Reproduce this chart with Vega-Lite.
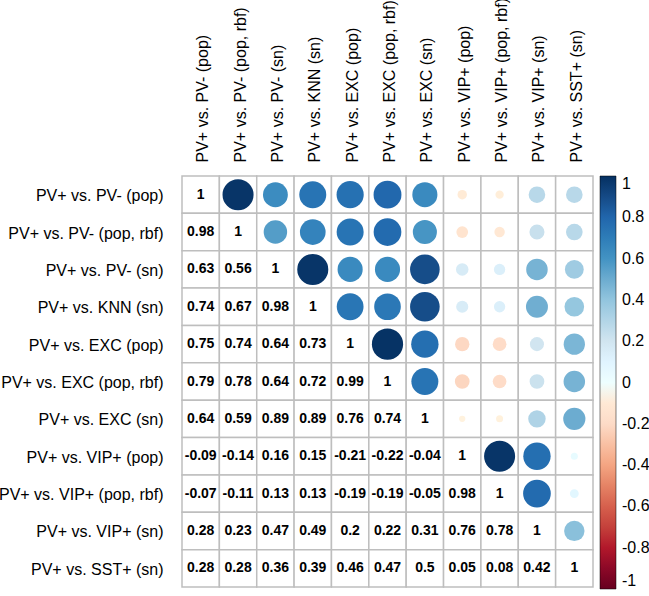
{
  "$schema": "https://vega.github.io/schema/vega-lite/v6.json",
  "autosize": {"type": "none"},
  "padding": {"left": 182, "top": 176, "right": 56, "bottom": 9},
  "width": 411,
  "height": 411,
  "config": {
    "view": {"stroke": null},
    "font": "Liberation Sans",
    "axis": {"domain": false, "ticks": false, "grid": false, "labelFont": "Liberation Sans", "labelFontSize": 16, "labelColor": "#000", "title": null, "labelLimit": 300}
  },
  "datasets": {
    "m": [
      {"row":"PV+ vs. PV- (pop)","col":"PV+ vs. PV- (pop)","r":1,"part":"l"},
      {"row":"PV+ vs. PV- (pop)","col":"PV+ vs. PV- (pop, rbf)","r":0.98,"part":"u"},
      {"row":"PV+ vs. PV- (pop)","col":"PV+ vs. PV- (sn)","r":0.63,"part":"u"},
      {"row":"PV+ vs. PV- (pop)","col":"PV+ vs. KNN (sn)","r":0.74,"part":"u"},
      {"row":"PV+ vs. PV- (pop)","col":"PV+ vs. EXC (pop)","r":0.75,"part":"u"},
      {"row":"PV+ vs. PV- (pop)","col":"PV+ vs. EXC (pop, rbf)","r":0.79,"part":"u"},
      {"row":"PV+ vs. PV- (pop)","col":"PV+ vs. EXC (sn)","r":0.64,"part":"u"},
      {"row":"PV+ vs. PV- (pop)","col":"PV+ vs. VIP+ (pop)","r":-0.09,"part":"u"},
      {"row":"PV+ vs. PV- (pop)","col":"PV+ vs. VIP+ (pop, rbf)","r":-0.07,"part":"u"},
      {"row":"PV+ vs. PV- (pop)","col":"PV+ vs. VIP+ (sn)","r":0.28,"part":"u"},
      {"row":"PV+ vs. PV- (pop)","col":"PV+ vs. SST+ (sn)","r":0.28,"part":"u"},

      {"row":"PV+ vs. PV- (pop, rbf)","col":"PV+ vs. PV- (pop)","r":0.98,"part":"l"},
      {"row":"PV+ vs. PV- (pop, rbf)","col":"PV+ vs. PV- (pop, rbf)","r":1,"part":"l"},
      {"row":"PV+ vs. PV- (pop, rbf)","col":"PV+ vs. PV- (sn)","r":0.56,"part":"u"},
      {"row":"PV+ vs. PV- (pop, rbf)","col":"PV+ vs. KNN (sn)","r":0.67,"part":"u"},
      {"row":"PV+ vs. PV- (pop, rbf)","col":"PV+ vs. EXC (pop)","r":0.74,"part":"u"},
      {"row":"PV+ vs. PV- (pop, rbf)","col":"PV+ vs. EXC (pop, rbf)","r":0.78,"part":"u"},
      {"row":"PV+ vs. PV- (pop, rbf)","col":"PV+ vs. EXC (sn)","r":0.59,"part":"u"},
      {"row":"PV+ vs. PV- (pop, rbf)","col":"PV+ vs. VIP+ (pop)","r":-0.14,"part":"u"},
      {"row":"PV+ vs. PV- (pop, rbf)","col":"PV+ vs. VIP+ (pop, rbf)","r":-0.11,"part":"u"},
      {"row":"PV+ vs. PV- (pop, rbf)","col":"PV+ vs. VIP+ (sn)","r":0.23,"part":"u"},
      {"row":"PV+ vs. PV- (pop, rbf)","col":"PV+ vs. SST+ (sn)","r":0.28,"part":"u"},

      {"row":"PV+ vs. PV- (sn)","col":"PV+ vs. PV- (pop)","r":0.63,"part":"l"},
      {"row":"PV+ vs. PV- (sn)","col":"PV+ vs. PV- (pop, rbf)","r":0.56,"part":"l"},
      {"row":"PV+ vs. PV- (sn)","col":"PV+ vs. PV- (sn)","r":1,"part":"l"},
      {"row":"PV+ vs. PV- (sn)","col":"PV+ vs. KNN (sn)","r":0.98,"part":"u"},
      {"row":"PV+ vs. PV- (sn)","col":"PV+ vs. EXC (pop)","r":0.64,"part":"u"},
      {"row":"PV+ vs. PV- (sn)","col":"PV+ vs. EXC (pop, rbf)","r":0.64,"part":"u"},
      {"row":"PV+ vs. PV- (sn)","col":"PV+ vs. EXC (sn)","r":0.89,"part":"u"},
      {"row":"PV+ vs. PV- (sn)","col":"PV+ vs. VIP+ (pop)","r":0.16,"part":"u"},
      {"row":"PV+ vs. PV- (sn)","col":"PV+ vs. VIP+ (pop, rbf)","r":0.13,"part":"u"},
      {"row":"PV+ vs. PV- (sn)","col":"PV+ vs. VIP+ (sn)","r":0.47,"part":"u"},
      {"row":"PV+ vs. PV- (sn)","col":"PV+ vs. SST+ (sn)","r":0.36,"part":"u"},

      {"row":"PV+ vs. KNN (sn)","col":"PV+ vs. PV- (pop)","r":0.74,"part":"l"},
      {"row":"PV+ vs. KNN (sn)","col":"PV+ vs. PV- (pop, rbf)","r":0.67,"part":"l"},
      {"row":"PV+ vs. KNN (sn)","col":"PV+ vs. PV- (sn)","r":0.98,"part":"l"},
      {"row":"PV+ vs. KNN (sn)","col":"PV+ vs. KNN (sn)","r":1,"part":"l"},
      {"row":"PV+ vs. KNN (sn)","col":"PV+ vs. EXC (pop)","r":0.73,"part":"u"},
      {"row":"PV+ vs. KNN (sn)","col":"PV+ vs. EXC (pop, rbf)","r":0.72,"part":"u"},
      {"row":"PV+ vs. KNN (sn)","col":"PV+ vs. EXC (sn)","r":0.89,"part":"u"},
      {"row":"PV+ vs. KNN (sn)","col":"PV+ vs. VIP+ (pop)","r":0.15,"part":"u"},
      {"row":"PV+ vs. KNN (sn)","col":"PV+ vs. VIP+ (pop, rbf)","r":0.13,"part":"u"},
      {"row":"PV+ vs. KNN (sn)","col":"PV+ vs. VIP+ (sn)","r":0.49,"part":"u"},
      {"row":"PV+ vs. KNN (sn)","col":"PV+ vs. SST+ (sn)","r":0.39,"part":"u"},

      {"row":"PV+ vs. EXC (pop)","col":"PV+ vs. PV- (pop)","r":0.75,"part":"l"},
      {"row":"PV+ vs. EXC (pop)","col":"PV+ vs. PV- (pop, rbf)","r":0.74,"part":"l"},
      {"row":"PV+ vs. EXC (pop)","col":"PV+ vs. PV- (sn)","r":0.64,"part":"l"},
      {"row":"PV+ vs. EXC (pop)","col":"PV+ vs. KNN (sn)","r":0.73,"part":"l"},
      {"row":"PV+ vs. EXC (pop)","col":"PV+ vs. EXC (pop)","r":1,"part":"l"},
      {"row":"PV+ vs. EXC (pop)","col":"PV+ vs. EXC (pop, rbf)","r":0.99,"part":"u"},
      {"row":"PV+ vs. EXC (pop)","col":"PV+ vs. EXC (sn)","r":0.76,"part":"u"},
      {"row":"PV+ vs. EXC (pop)","col":"PV+ vs. VIP+ (pop)","r":-0.21,"part":"u"},
      {"row":"PV+ vs. EXC (pop)","col":"PV+ vs. VIP+ (pop, rbf)","r":-0.19,"part":"u"},
      {"row":"PV+ vs. EXC (pop)","col":"PV+ vs. VIP+ (sn)","r":0.2,"part":"u"},
      {"row":"PV+ vs. EXC (pop)","col":"PV+ vs. SST+ (sn)","r":0.46,"part":"u"},

      {"row":"PV+ vs. EXC (pop, rbf)","col":"PV+ vs. PV- (pop)","r":0.79,"part":"l"},
      {"row":"PV+ vs. EXC (pop, rbf)","col":"PV+ vs. PV- (pop, rbf)","r":0.78,"part":"l"},
      {"row":"PV+ vs. EXC (pop, rbf)","col":"PV+ vs. PV- (sn)","r":0.64,"part":"l"},
      {"row":"PV+ vs. EXC (pop, rbf)","col":"PV+ vs. KNN (sn)","r":0.72,"part":"l"},
      {"row":"PV+ vs. EXC (pop, rbf)","col":"PV+ vs. EXC (pop)","r":0.99,"part":"l"},
      {"row":"PV+ vs. EXC (pop, rbf)","col":"PV+ vs. EXC (pop, rbf)","r":1,"part":"l"},
      {"row":"PV+ vs. EXC (pop, rbf)","col":"PV+ vs. EXC (sn)","r":0.74,"part":"u"},
      {"row":"PV+ vs. EXC (pop, rbf)","col":"PV+ vs. VIP+ (pop)","r":-0.22,"part":"u"},
      {"row":"PV+ vs. EXC (pop, rbf)","col":"PV+ vs. VIP+ (pop, rbf)","r":-0.19,"part":"u"},
      {"row":"PV+ vs. EXC (pop, rbf)","col":"PV+ vs. VIP+ (sn)","r":0.22,"part":"u"},
      {"row":"PV+ vs. EXC (pop, rbf)","col":"PV+ vs. SST+ (sn)","r":0.47,"part":"u"},

      {"row":"PV+ vs. EXC (sn)","col":"PV+ vs. PV- (pop)","r":0.64,"part":"l"},
      {"row":"PV+ vs. EXC (sn)","col":"PV+ vs. PV- (pop, rbf)","r":0.59,"part":"l"},
      {"row":"PV+ vs. EXC (sn)","col":"PV+ vs. PV- (sn)","r":0.89,"part":"l"},
      {"row":"PV+ vs. EXC (sn)","col":"PV+ vs. KNN (sn)","r":0.89,"part":"l"},
      {"row":"PV+ vs. EXC (sn)","col":"PV+ vs. EXC (pop)","r":0.76,"part":"l"},
      {"row":"PV+ vs. EXC (sn)","col":"PV+ vs. EXC (pop, rbf)","r":0.74,"part":"l"},
      {"row":"PV+ vs. EXC (sn)","col":"PV+ vs. EXC (sn)","r":1,"part":"l"},
      {"row":"PV+ vs. EXC (sn)","col":"PV+ vs. VIP+ (pop)","r":-0.04,"part":"u"},
      {"row":"PV+ vs. EXC (sn)","col":"PV+ vs. VIP+ (pop, rbf)","r":-0.05,"part":"u"},
      {"row":"PV+ vs. EXC (sn)","col":"PV+ vs. VIP+ (sn)","r":0.31,"part":"u"},
      {"row":"PV+ vs. EXC (sn)","col":"PV+ vs. SST+ (sn)","r":0.5,"part":"u"},

      {"row":"PV+ vs. VIP+ (pop)","col":"PV+ vs. PV- (pop)","r":-0.09,"part":"l"},
      {"row":"PV+ vs. VIP+ (pop)","col":"PV+ vs. PV- (pop, rbf)","r":-0.14,"part":"l"},
      {"row":"PV+ vs. VIP+ (pop)","col":"PV+ vs. PV- (sn)","r":0.16,"part":"l"},
      {"row":"PV+ vs. VIP+ (pop)","col":"PV+ vs. KNN (sn)","r":0.15,"part":"l"},
      {"row":"PV+ vs. VIP+ (pop)","col":"PV+ vs. EXC (pop)","r":-0.21,"part":"l"},
      {"row":"PV+ vs. VIP+ (pop)","col":"PV+ vs. EXC (pop, rbf)","r":-0.22,"part":"l"},
      {"row":"PV+ vs. VIP+ (pop)","col":"PV+ vs. EXC (sn)","r":-0.04,"part":"l"},
      {"row":"PV+ vs. VIP+ (pop)","col":"PV+ vs. VIP+ (pop)","r":1,"part":"l"},
      {"row":"PV+ vs. VIP+ (pop)","col":"PV+ vs. VIP+ (pop, rbf)","r":0.98,"part":"u"},
      {"row":"PV+ vs. VIP+ (pop)","col":"PV+ vs. VIP+ (sn)","r":0.76,"part":"u"},
      {"row":"PV+ vs. VIP+ (pop)","col":"PV+ vs. SST+ (sn)","r":0.05,"part":"u"},

      {"row":"PV+ vs. VIP+ (pop, rbf)","col":"PV+ vs. PV- (pop)","r":-0.07,"part":"l"},
      {"row":"PV+ vs. VIP+ (pop, rbf)","col":"PV+ vs. PV- (pop, rbf)","r":-0.11,"part":"l"},
      {"row":"PV+ vs. VIP+ (pop, rbf)","col":"PV+ vs. PV- (sn)","r":0.13,"part":"l"},
      {"row":"PV+ vs. VIP+ (pop, rbf)","col":"PV+ vs. KNN (sn)","r":0.13,"part":"l"},
      {"row":"PV+ vs. VIP+ (pop, rbf)","col":"PV+ vs. EXC (pop)","r":-0.19,"part":"l"},
      {"row":"PV+ vs. VIP+ (pop, rbf)","col":"PV+ vs. EXC (pop, rbf)","r":-0.19,"part":"l"},
      {"row":"PV+ vs. VIP+ (pop, rbf)","col":"PV+ vs. EXC (sn)","r":-0.05,"part":"l"},
      {"row":"PV+ vs. VIP+ (pop, rbf)","col":"PV+ vs. VIP+ (pop)","r":0.98,"part":"l"},
      {"row":"PV+ vs. VIP+ (pop, rbf)","col":"PV+ vs. VIP+ (pop, rbf)","r":1,"part":"l"},
      {"row":"PV+ vs. VIP+ (pop, rbf)","col":"PV+ vs. VIP+ (sn)","r":0.78,"part":"u"},
      {"row":"PV+ vs. VIP+ (pop, rbf)","col":"PV+ vs. SST+ (sn)","r":0.08,"part":"u"},

      {"row":"PV+ vs. VIP+ (sn)","col":"PV+ vs. PV- (pop)","r":0.28,"part":"l"},
      {"row":"PV+ vs. VIP+ (sn)","col":"PV+ vs. PV- (pop, rbf)","r":0.23,"part":"l"},
      {"row":"PV+ vs. VIP+ (sn)","col":"PV+ vs. PV- (sn)","r":0.47,"part":"l"},
      {"row":"PV+ vs. VIP+ (sn)","col":"PV+ vs. KNN (sn)","r":0.49,"part":"l"},
      {"row":"PV+ vs. VIP+ (sn)","col":"PV+ vs. EXC (pop)","r":0.2,"part":"l"},
      {"row":"PV+ vs. VIP+ (sn)","col":"PV+ vs. EXC (pop, rbf)","r":0.22,"part":"l"},
      {"row":"PV+ vs. VIP+ (sn)","col":"PV+ vs. EXC (sn)","r":0.31,"part":"l"},
      {"row":"PV+ vs. VIP+ (sn)","col":"PV+ vs. VIP+ (pop)","r":0.76,"part":"l"},
      {"row":"PV+ vs. VIP+ (sn)","col":"PV+ vs. VIP+ (pop, rbf)","r":0.78,"part":"l"},
      {"row":"PV+ vs. VIP+ (sn)","col":"PV+ vs. VIP+ (sn)","r":1,"part":"l"},
      {"row":"PV+ vs. VIP+ (sn)","col":"PV+ vs. SST+ (sn)","r":0.42,"part":"u"},

      {"row":"PV+ vs. SST+ (sn)","col":"PV+ vs. PV- (pop)","r":0.28,"part":"l"},
      {"row":"PV+ vs. SST+ (sn)","col":"PV+ vs. PV- (pop, rbf)","r":0.28,"part":"l"},
      {"row":"PV+ vs. SST+ (sn)","col":"PV+ vs. PV- (sn)","r":0.36,"part":"l"},
      {"row":"PV+ vs. SST+ (sn)","col":"PV+ vs. KNN (sn)","r":0.39,"part":"l"},
      {"row":"PV+ vs. SST+ (sn)","col":"PV+ vs. EXC (pop)","r":0.46,"part":"l"},
      {"row":"PV+ vs. SST+ (sn)","col":"PV+ vs. EXC (pop, rbf)","r":0.47,"part":"l"},
      {"row":"PV+ vs. SST+ (sn)","col":"PV+ vs. EXC (sn)","r":0.5,"part":"l"},
      {"row":"PV+ vs. SST+ (sn)","col":"PV+ vs. VIP+ (pop)","r":0.05,"part":"l"},
      {"row":"PV+ vs. SST+ (sn)","col":"PV+ vs. VIP+ (pop, rbf)","r":0.08,"part":"l"},
      {"row":"PV+ vs. SST+ (sn)","col":"PV+ vs. VIP+ (sn)","r":0.42,"part":"l"},
      {"row":"PV+ vs. SST+ (sn)","col":"PV+ vs. SST+ (sn)","r":1,"part":"l"}
    ]
  },
  "data": {"name": "m"},
  "encoding": {
    "x": {
      "field": "col", "type": "nominal",
      "sort": ["PV+ vs. PV- (pop)","PV+ vs. PV- (pop, rbf)","PV+ vs. PV- (sn)","PV+ vs. KNN (sn)","PV+ vs. EXC (pop)","PV+ vs. EXC (pop, rbf)","PV+ vs. EXC (sn)","PV+ vs. VIP+ (pop)","PV+ vs. VIP+ (pop, rbf)","PV+ vs. VIP+ (sn)","PV+ vs. SST+ (sn)"],
      "scale": {"paddingInner": 0, "paddingOuter": 0},
      "axis": {"orient": "top", "labelAngle": -90, "labelAlign": "left", "labelBaseline": "middle", "labelPadding": 14, "labelOffset": 2.5}
    },
    "y": {
      "field": "row", "type": "nominal",
      "sort": ["PV+ vs. PV- (pop)","PV+ vs. PV- (pop, rbf)","PV+ vs. PV- (sn)","PV+ vs. KNN (sn)","PV+ vs. EXC (pop)","PV+ vs. EXC (pop, rbf)","PV+ vs. EXC (sn)","PV+ vs. VIP+ (pop)","PV+ vs. VIP+ (pop, rbf)","PV+ vs. VIP+ (sn)","PV+ vs. SST+ (sn)"],
      "scale": {"paddingInner": 0, "paddingOuter": 0},
      "axis": {"labelPadding": 19, "labelOffset": 1.5}
    }
  },
  "layer": [
    {
      "mark": {"type": "rect", "fill": "#ffffff", "stroke": "#bebebe", "strokeWidth": 1.5}
    },
    {
      "transform": [{"filter": "datum.part === 'u'"}],
      "mark": {"type": "circle", "opacity": 1},
      "encoding": {
        "size": {
          "field": "r", "type": "quantitative",
          "scale": {"domain": [-1, 0, 1], "range": [984, 0, 984]},
          "legend": null
        },
        "color": {
          "field": "r", "type": "quantitative",
          "scale": {
            "domain": [-1, -0.8, -0.6, -0.4, -0.2, 0, 0.2, 0.4, 0.6, 0.8, 1],
            "range": ["#67001F", "#B2182B", "#D6604D", "#F4A582", "#FDDBC7", "#FFFFFF", "#D1E5F0", "#92C5DE", "#4393C3", "#2166AC", "#053061"]
          },
          "legend": {
            "title": null,
            "direction": "vertical",
            "orient": "right",
            "offset": 7,
            "padding": 0,
            "gradientLength": 413,
            "gradientThickness": 16,
            "gradientStrokeColor": "#000000",
            "gradientStrokeWidth": 0.5,
            "values": [-1, -0.8, -0.6, -0.4, -0.2, 0, 0.2, 0.4, 0.6, 0.8, 1],
            "labelExpr": "toString(datum.value)",
            "labelFont": "Liberation Sans",
            "labelFontSize": 16,
            "labelColor": "#000000",
            "labelOffset": 6,
            "labelBaseline": "middle",
            "labelOverlap": false
          }
        }
      }
    },
    {
      "transform": [{"filter": "datum.part === 'l'"}],
      "mark": {"type": "text", "font": "Liberation Sans", "fontWeight": "bold", "fontSize": 14, "color": "#000000"},
      "encoding": {
        "text": {"field": "r", "type": "nominal"}
      }
    }
  ]
}
